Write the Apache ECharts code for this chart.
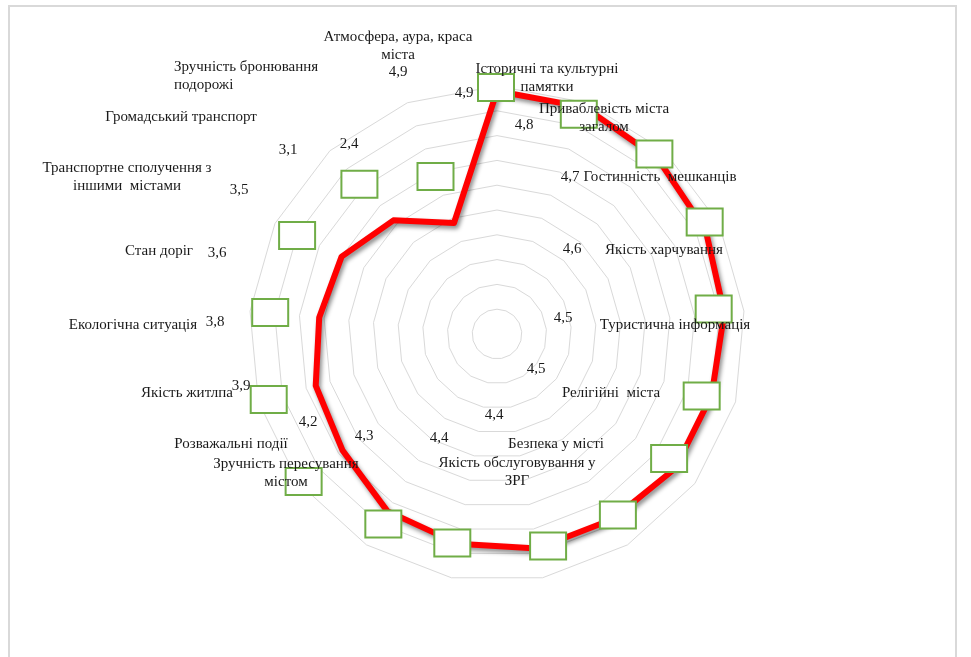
<!DOCTYPE html>
<html>
<head>
<meta charset="utf-8">
<script src="https://cdn.jsdelivr.net/npm/echarts@6/dist/echarts.min.js"></script>
<style>
  html, body { margin: 0; padding: 0; background: #ffffff; }
  #chart { width: 971px; height: 657px; }
</style>
</head>
<body>
<div id="chart"></div>
<script>
// Survey criteria, listed clockwise starting from the top axis
const categories = [
  'Атмосфера, аура, краса\nміста',
  'Історичні та культурні\nпамятки',
  'Приваблевість міста\nзагалом',
  'Гостинність  мешканців',
  'Якість харчування',
  'Туристична інформація',
  'Релігійні  міста',
  'Безпека у місті',
  'Якість обслуговування у\nЗРГ',
  'Зручність пересування\nмістом',
  'Розважальні події',
  'Якість житлпа',
  'Екологічна ситуація',
  'Стан доріг',
  'Транспортне сполучення з\nіншими  містами',
  'Громадський транспорт',
  'Зручність бронювання\nподорожі'
];

// Average score for each criterion (same order as categories)
const scores = [4.9, 4.9, 4.8, 4.7, 4.6, 4.5, 4.5, 4.4, 4.4, 4.3, 4.2, 3.9, 3.8, 3.6, 3.5, 3.1, 2.4];

// Radial scale
const scaleMin = 0;
const scaleMax = 5;
const scaleSplits = 10;

// Where each criterion name and score text sits on the canvas: [x, y, align]
const nameSpots = [
  [398, 46, 'center'], [547, 78, 'center'], [604, 118, 'center'], [660, 177, 'center'],
  [664, 250, 'center'], [675, 325, 'center'], [611, 393, 'center'], [556, 444, 'center'],
  [517, 472, 'center'], [286, 473, 'center'], [231, 444, 'center'], [187, 393, 'center'],
  [133, 325, 'center'], [159, 251, 'center'], [127, 177.5, 'center'], [181, 117, 'center'],
  [174, 76.5, 'left']
];
const scoreSpots = [
  [398, 72], [464, 93], [524, 125], [570, 177], [572, 249], [563, 318], [536, 369],
  [494, 415], [439, 438], [364, 436], [308, 422], [241, 386], [215, 322], [217, 253],
  [239, 190], [288, 150], [349, 144]
];
// Label frames: shift from each vertex of the score line
const frameShift = [
  [-1, -3.5], [-6, 7], [-3, -4], [-1, -8], [-10.5, -4], [-10, 1], [-6, -10], [6, -4.5],
  [11, -2.5], [-5.5, -0.7], [-4, 13], [-39, 31], [-47, 14], [-49, -5], [-44.5, -21],
  [-34, -36], [-18.5, -46.5]
];

const n = categories.length;
// ECharts lays radar indicators out counter-clockwise; reorder to run clockwise
const order = [0];
for (let i = n - 1; i >= 1; i--) order.push(i);

const chart = echarts.init(document.getElementById('chart'), null, { renderer: 'canvas' });

const radarCenter = [497, 334];
const radarRadius = 248;
const textFont = { fontFamily: 'Liberation Serif', fontSize: 15, fill: '#1a1a1a' };

chart.setOption({
  backgroundColor: '#ffffff',
  animation: false,
  radar: {
    center: radarCenter,
    radius: radarRadius,
    startAngle: 90,
    splitNumber: scaleSplits,
    shape: 'polygon',
    indicator: order.map(i => ({ name: categories[i], min: scaleMin, max: scaleMax })),
    axisName: { show: false },
    axisLine: { show: false },
    axisTick: { show: false },
    axisLabel: { show: false },
    splitArea: { show: false },
    splitLine: { lineStyle: { color: '#d9d9d9', width: 1 } }
  },
  series: [{
    type: 'radar',
    symbol: 'none',
    z: 3,
    lineStyle: {
      color: '#ff0000',
      width: 6,
      shadowColor: 'rgba(0,0,0,0.45)',
      shadowBlur: 4,
      shadowOffsetX: 2,
      shadowOffsetY: 3
    },
    data: [{ value: order.map(i => scores[i]) }]
  }]
});

// Vertex position of category i on the score line, taken from the radar scale
function vertexOf(i) {
  const k = (n - i) % n;
  try {
    const cs = chart.getModel().getComponent('radar', 0).coordinateSystem;
    const p = cs.dataToPoint(scores[i], k);
    if (p && isFinite(p[0]) && isFinite(p[1])) return p;
  } catch (e) { /* fall through */ }
  const ang = Math.PI / 2 + k * 2 * Math.PI / n;
  const r = (scores[i] - scaleMin) / (scaleMax - scaleMin) * radarRadius;
  return [radarCenter[0] + r * Math.cos(ang), radarCenter[1] - r * Math.sin(ang)];
}

const fmt = v => v.toFixed(1).replace('.', ',');
const frameW = 36, frameH = 27;
const elements = [];

// Outer chart frame
elements.push({
  type: 'rect', z: 1,
  shape: { x: 9, y: 6, width: 947, height: 720 },
  style: { fill: 'none', stroke: '#d9d9d9', lineWidth: 2 }
});

categories.forEach((name, i) => {
  const p = vertexOf(i);
  const cx = p[0] + frameShift[i][0];
  const cy = p[1] + frameShift[i][1];
  elements.push({
    type: 'rect', z: 100,
    shape: { x: cx - frameW / 2, y: cy - frameH / 2, width: frameW, height: frameH },
    style: { fill: '#ffffff', stroke: '#70ad47', lineWidth: 2 }
  });
});

categories.forEach((name, i) => {
  const s = nameSpots[i];
  elements.push({
    type: 'text', z: 110,
    x: s[0], y: s[1],
    style: Object.assign({ text: name, align: s[2], verticalAlign: 'middle', lineHeight: 18 }, textFont)
  });
  const v = scoreSpots[i];
  elements.push({
    type: 'text', z: 110,
    x: v[0], y: v[1],
    style: Object.assign({ text: fmt(scores[i]), align: 'center', verticalAlign: 'middle' }, textFont)
  });
});

chart.setOption({ graphic: { elements: elements } });
</script>
</body>
</html>
